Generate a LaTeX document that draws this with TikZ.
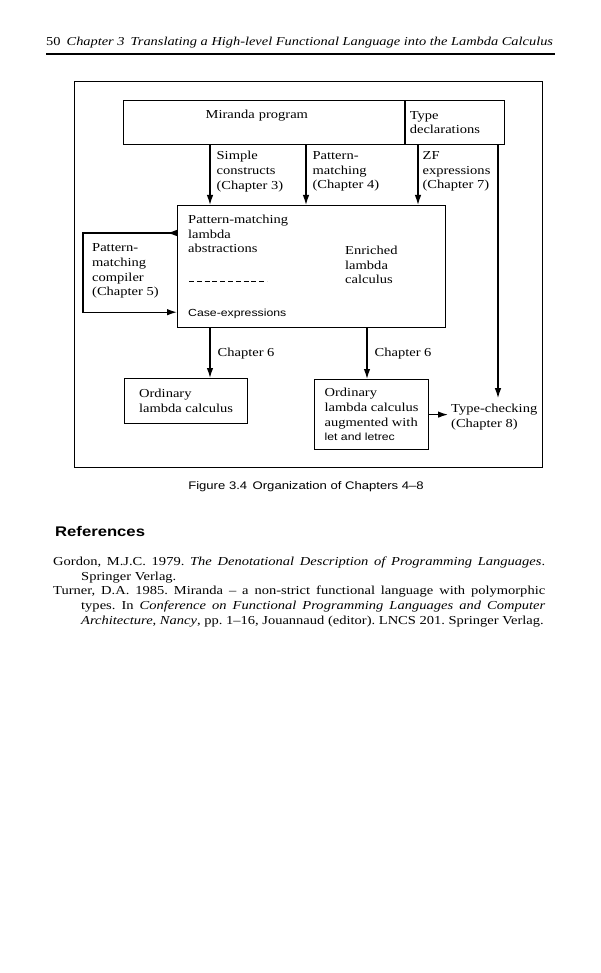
\documentclass[tikz,border=0pt]{standalone}
\usepackage{fontspec}
\setmainfont{Liberation Serif}[FakeStretch=1.19]
\setsansfont{Liberation Sans}[FakeStretch=1.19]
\usepackage{tikz}
\usetikzlibrary{arrows.meta, positioning, calc}
\frenchspacing

\begin{document}
\begin{tikzpicture}[
  x=1pt, y=-1pt,
  font=\fontsize{12.2}{14.7}\selectfont,
  block/.style={rectangle, draw=black, line width=1.2pt, anchor=north west, inner sep=0pt, align=left},
  plain/.style={inner sep=0pt, align=left},
  small/.style={font=\sffamily\fontsize{10.3}{12}\selectfont},
  arrow/.style={line width=1.3pt, -{Latex[length=10pt, width=6.5pt]}}
]
\useasboundingbox (0,0) rectangle (600,973);

% running head
\node (head) [plain, anchor=base west, font=\fontsize{12.1}{15}\selectfont] at (46,46) {50\enspace\textit{Chapter 3\enspace Translating a High-level Functional Language into the Lambda Calculus}};
\draw [line width=1.8pt] (46,54) -- (555,54);

% figure 3.4
\node (frame) [block, line width=1.4pt, minimum width=468pt, minimum height=386pt] at (74,81) {};
\node (miranda) [block, minimum width=281pt, minimum height=44pt, text width=117pt, inner xsep=82pt, text height=8pt, text depth=16pt] at (123,100) {Miranda program};
\node (typedecl) [block, right=0pt of miranda, minimum width=99pt, minimum height=44pt, text width=91pt, inner xsep=4pt] {Type\\declarations};
\node (enriched) [block, minimum width=268pt, minimum height=122pt] at (177,205) {};

\coordinate (xsimple) at (210,0);
\coordinate (xpat) at (306,0);
\coordinate (xzf) at (418,0);
\coordinate (xright) at (367,0);
\coordinate (xtype) at (498,0);

\draw [arrow] (xsimple |- miranda.south) -- node (simplelbl) [plain, right=6pt, yshift=3.5pt] {Simple\\constructs\\(Chapter 3)} (xsimple |- enriched.north);
\draw [arrow] (xpat |- miranda.south) -- node (patlbl) [plain, right=6pt, yshift=3.5pt] {Pattern-\\matching\\(Chapter 4)} (xpat |- enriched.north);
\draw [arrow] (xzf |- typedecl.south) -- node (zflbl) [plain, right=4pt, yshift=3.5pt] {ZF\\expressions\\(Chapter 7)} (xzf |- enriched.north);

\node (pmla) [plain, anchor=north west] at (188,214.7) {Pattern-matching\\lambda\\abstractions};
\draw [dash pattern=on 5pt off 2.8pt, line width=1pt] (189,281) -- (267,281);
\node (casex) [plain, small, anchor=base west] at (188,316) {Case-expressions};
\node (enrtext) [plain, anchor=north west] at (345,245.7) {Enriched\\lambda\\calculus};

% pattern-matching compiler loop
\node (compiler) [plain, anchor=north west] at (92,243.7) {Pattern-\\matching\\compiler\\(Chapter 5)};
\coordinate (loopout) at ([yshift=-28pt]enriched.north west);
\coordinate (loopin) at ([yshift=16pt]enriched.south west);
\draw [arrow] (loopout) -- ++(-10,0);
\draw [arrow] (loopout) -- ++(-94,0) |- (loopin);

\node (ordleft) [block, minimum width=123pt, minimum height=45pt] at (124,378) {Ordinary\\lambda calculus};
\node (ordright) [block, minimum width=114pt, minimum height=70pt] at (314,379) {Ordinary\\lambda calculus\\augmented with\\{\sffamily\fontsize{10.3}{12}\selectfont let and letrec}};
\draw [arrow] (xsimple |- enriched.south) -- node (ch6left) [plain, right=7pt] {Chapter 6} (xsimple |- ordleft.north);
\draw [arrow] (xright |- enriched.south) -- node (ch6right) [plain, right=7pt] {Chapter 6} (xright |- ordright.north);

\node (typecheck) [plain, anchor=north west] at (451,403.7) {Type-checking\\(Chapter 8)};
\draw [arrow] (ordright.east) -- ([xshift=-3pt]ordright.east -| typecheck.west);
\draw [arrow] (xtype |- typedecl.south) -- ([yshift=5.5pt]xtype |- typecheck.north);

\node (caption) [plain, anchor=base, font=\sffamily\fontsize{11}{13}\selectfont] at (306,489) {Figure 3.4\enspace Organization of Chapters 4--8};

% references
\node (refhead) [plain, anchor=base west, font=\sffamily\bfseries\fontsize{14}{16}\selectfont] at (55,536) {References};
\node (refs) [plain, anchor=north west, text width=492pt, align=justify] at (53,556.7) {%
\hangindent=28pt\hangafter=1 Gordon, M.J.C. 1979. \textit{The Denotational Description of Programming Languages}.\linebreak Springer Verlag.\par
\hangindent=28pt\hangafter=1 Turner, D.A. 1985. Miranda -- a non-strict functional language with polymorphic\linebreak types. In \textit{Conference on Functional Programming Languages and Computer}\linebreak \textit{Architecture}, \textit{Nancy}, pp.~1--16, Jouannaud (editor). LNCS~201. Springer Verlag.\par};
\end{tikzpicture}
\end{document}
